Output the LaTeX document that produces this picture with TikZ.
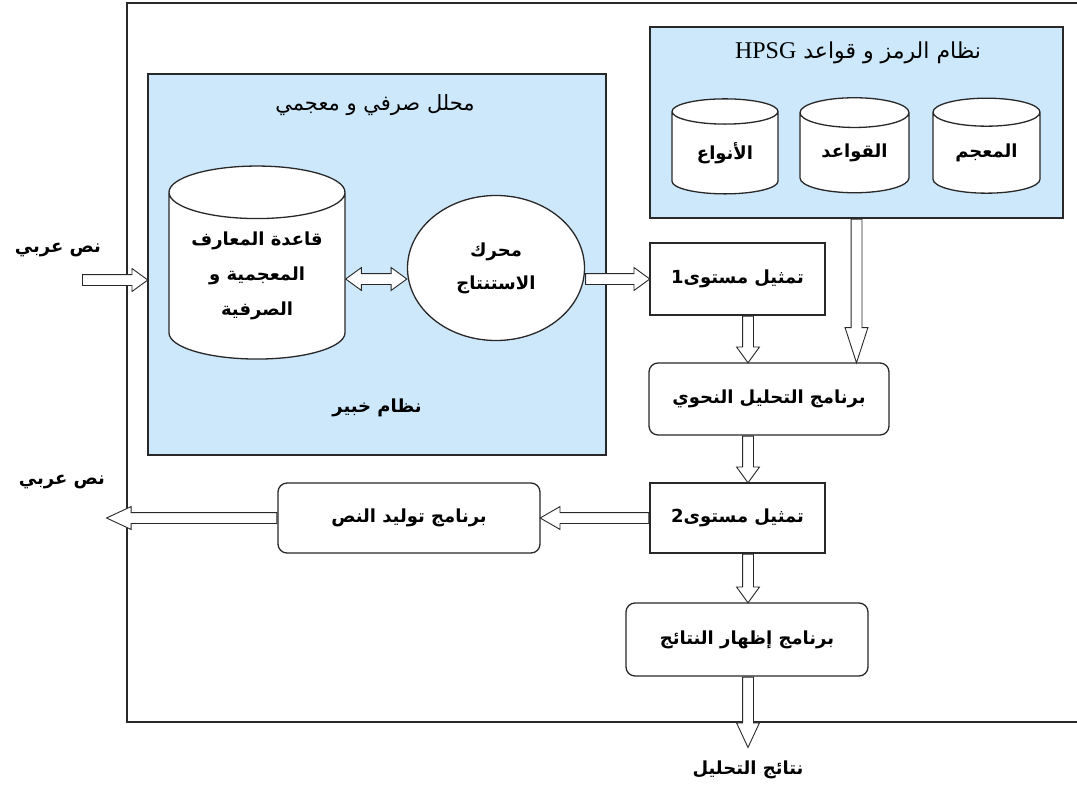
\documentclass[tikz,border=0pt]{standalone}
\usepackage{fontspec}
\usetikzlibrary{shapes.geometric,shapes.arrows,calc}
\TeXXeTstate=1
\newfontfamily\arabicfont[Script=Arabic]{DejaVu Sans}
\newfontfamily\latinserif{Liberation Serif}
\newcommand{\artxt}[1]{\beginR #1\endR}
\definecolor{panelblue}{RGB}{204,232,250}
\definecolor{edgegray}{RGB}{40,40,40}

\tikzset{
  panel/.style={draw=edgegray, line width=1.3pt, fill=panelblue, inner sep=0pt},
  stage/.style={draw=edgegray, line width=1.3pt, fill=white, inner sep=0pt, align=center,
    font=\arabicfont\bfseries\fontsize{18}{35}\selectfont},
  prog/.style={stage, rounded corners=9pt},
  store/.style={stage, cylinder, shape border rotate=90, aspect=#1},
  store/.default=0.4,
  title/.style={font=\arabicfont\fontsize{21}{24}\selectfont, inner sep=0pt},
  plain/.style={font=\arabicfont\bfseries\fontsize{18}{22}\selectfont, inner sep=0pt},
  fat/.style={to path={let \p1=(\tikztostart), \p2=(\tikztotarget),
      \n1={veclen(\x2-\x1,\y2-\y1)} in
      (\tikztostart) -- (\tikztotarget)
      node[pos=0, anchor=tail, sloped, allow upside down, single arrow, draw=edgegray, fill=white,
        line width=0.9pt, inner xsep=0pt, inner ysep=5pt,
        single arrow head extend=6pt, single arrow tip angle=#1,
        minimum height=\n1]{}}},
  fat/.default=72,
  fatboth/.style={to path={let \p1=(\tikztostart), \p2=(\tikztotarget),
      \n1={veclen(\x2-\x1,\y2-\y1)} in
      (\tikztostart) -- (\tikztotarget)
      node[midway, sloped, allow upside down, double arrow, draw=edgegray, fill=white,
        line width=0.9pt, inner xsep=0pt, inner ysep=5pt,
        double arrow head extend=6pt, double arrow tip angle=72,
        minimum height=\n1]{}}}
}

\begin{document}
\begin{tikzpicture}[x=1pt, y=-1pt]
  \useasboundingbox (0,0) rectangle (1077,795);

  % frame of the system
  \draw[edgegray, line width=1.8pt] (1077,3) -- (127,3) -- (127,722) -- (1077,722);

  % morphological analyser
  \node[panel, minimum width=458, minimum height=381] (morph) at (377,264.5) {};
  \node[title] (morphtitle) at (375,105) {\artxt{محلل صرفي و معجمي}};
  \node[plain] (expert) at (377,408) {\artxt{نظام خبير}};
  \node[store, minimum width=176, minimum height=193] (kb) at (257,276)
    {\artxt{قاعدة المعارف}\\\artxt{المعجمية و}\\\artxt{الصرفية}};
  \node[stage, ellipse, minimum width=177, minimum height=145,
    font=\arabicfont\bfseries\fontsize{18}{33}\selectfont] (engine) at (496,268)
    {\artxt{محرك}\\\artxt{الاستنتاج}};

  % HPSG resources
  \node[panel, minimum width=413, minimum height=191] (hpsg) at (856.5,122.5) {};
  \node[title, font=\arabicfont\fontsize{22}{24}\selectfont] (hpsgtitle) at (858,53)
    {\beginR نظام الرمز و قواعد \beginL{\latinserif\fontsize{24}{24}\selectfont HPSG}\endL\endR};
  \node[store=0.45, minimum width=106, minimum height=95] (types) at (725,153) {\artxt{الأنواع}};
  \node[store=0.45, minimum width=109, minimum height=95] (rules) at (854.5,153) {\artxt{القواعد}};
  \node[store=0.45, minimum width=107, minimum height=95] (lexicon) at (986.5,153) {\artxt{المعجم}};

  % pipeline
  \node[stage, minimum width=175, minimum height=72] (level1) at (737.5,279) {\artxt{تمثيل مستوى1}};
  \node[prog, minimum width=240, minimum height=72] (parser) at (769,399) {\artxt{برنامج التحليل النحوي}};
  \node[stage, minimum width=175, minimum height=70] (level2) at (737.5,518) {\artxt{تمثيل مستوى2}};
  \node[prog, minimum width=262, minimum height=70] (generator) at (409,518) {\artxt{برنامج توليد النص}};
  \node[prog, minimum width=242, minimum height=73] (display) at (747,639.5) {\artxt{برنامج إظهار النتائج}};

  % outside texts
  \node[plain] (textin) at (58,250) {\artxt{نص عربي}};
  \node[plain] (textout) at (62,482) {\artxt{نص عربي}};
  \node[plain] (results) at (748,770) {\artxt{نتائج التحليل}};

  \coordinate (spine) at (748,0);
  \coordinate (inS) at (82,280);
  \coordinate (outE) at (107,518);
  \coordinate (resE) at (748,747);

  \path (inS) to[fat] (inS -| morph.west);
  \path (kb.east |- level1) to[fatboth] (engine.west |- level1);
  \path (engine.east |- level1) to[fat] (level1.west);
  \path (level1.south -| spine) to[fat] (parser.north -| spine);
  \path (hpsg.south) to[fat=36] (hpsg.south |- parser.north);
  \path (parser.south -| spine) to[fat] (level2.north -| spine);
  \path (level2.west) to[fat=60] (generator.east);
  \path (generator.west) to[fat=50] (outE);
  \path (level2.south -| spine) to[fat] (display.north -| spine);
  \path (display.south -| spine) to[fat=50] (resE);
\end{tikzpicture}
\end{document}
